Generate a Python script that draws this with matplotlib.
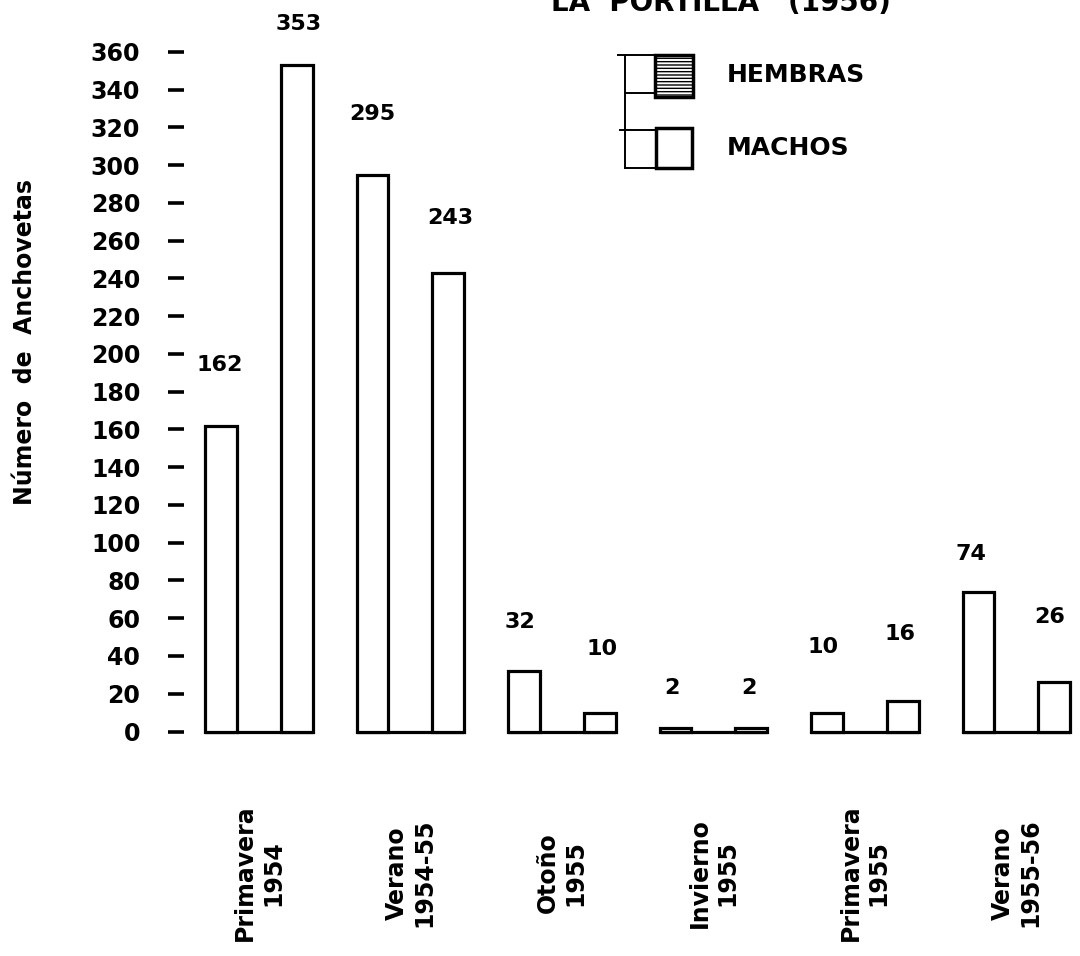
import numpy as np
import matplotlib
matplotlib.use("Agg")
import matplotlib.pyplot as plt
from matplotlib.patches import Rectangle
from matplotlib.lines import Line2D

# --- data ---
seasons = ["Primavera\n1954", "Verano\n1954-55", "Otoño\n1955",
           "Invierno\n1955", "Primavera\n1955", "Verano\n1955-56"]
hembras = [162, 295, 32, 2, 10, 74]
machos = [353, 243, 10, 2, 16, 26]
yticks = list(range(0, 361, 20))

# hand-lettered value labels sit a bit irregularly above each bar (pixels)
nudge_h = [(-1, 61), (0, 61), (-4, 49), (-4, 40), (-4, 66), (-8, 38)]
nudge_m = [(2, 41), (2, 55), (2, 64), (-2, 40), (-3, 67), (-5, 65)]

plt.rcParams['font.family'] = 'DejaVu Sans'
plt.rcParams['font.weight'] = 'bold'

W, H = 1080, 956
fig = plt.figure(figsize=(W / 100, H / 100), dpi=100, facecolor='white')
ax = fig.add_axes([184 / W, 1 - 745 / H, (W - 184) / W, 745 / H])

x = np.arange(len(seasons))
off, width = 0.25, 0.21
kw = dict(width=width, color='white', edgecolor='black', linewidth=2.3, zorder=3)
bars_h = ax.bar(x - off, hembras, **kw)
bars_m = ax.bar(x + off, machos, **kw)

# base line joining the two bars of each season
ax.hlines(np.zeros(len(x)), x - off - width / 2, x + off + width / 2,
          color='black', lw=2.3, zorder=2)

for bars, vals, nudges in [(bars_h, hembras, nudge_h), (bars_m, machos, nudge_m)]:
    for b, v, (dx, dy) in zip(bars, vals, nudges):
        ax.annotate(str(v), (b.get_x() + b.get_width() / 2, v),
                    xytext=(dx, dy), textcoords='offset pixels',
                    ha='center', va='center', fontsize=16, fontweight='bold')

ax.set_xlim(-0.495, 5.42)
ax.set_ylim(-7.15, 387.5)
ax.set_yticks(yticks)
ax.set_yticklabels([str(t) for t in yticks])
ax.tick_params(axis='y', direction='out', length=11.5, width=2.6, pad=20,
               labelsize=17, colors='black')
ax.set_xticks(x)
ax.set_xticklabels(seasons)
ax.tick_params(axis='x', length=0, pad=92, labelsize=17)
plt.setp(ax.get_xticklabels(), rotation=90, va='center', ha='center',
         multialignment='center', fontweight='bold')
plt.setp(ax.get_yticklabels(), fontweight='bold')
for s in ax.spines.values():
    s.set_visible(False)

ax.set_ylabel('Número  de  Anchovetas', fontsize=17, fontweight='bold', va='center')
ax.yaxis.set_label_coords(-0.178, 0.541)

# title, cut off by the top edge of the scan
fig.text(721 / W, 1 - 11 / H, 'LA  PORTILLA   (1956)', ha='center', va='baseline',
         fontsize=20, fontweight='bold')

# legend drawn the way the original draughtsman did it
def fp(px, py):
    return px / W, 1 - py / H

tf = fig.transFigure
x0, y0 = fp(655, 97)
fig.add_artist(Rectangle((x0, y0), 38 / W, 42 / H, transform=tf, facecolor='white',
                         edgecolor='black', hatch='-----', linewidth=2.5))
x0, y0 = fp(656, 168)
fig.add_artist(Rectangle((x0, y0), 36 / W, 40 / H, transform=tf, facecolor='white',
                         edgecolor='black', linewidth=2.5))
for (xa, ya), (xb, yb) in [((625, 55), (625, 168)), ((618, 55), (655, 55)),
                           ((625, 93), (655, 93)), ((620, 130), (656, 130)),
                           ((625, 168), (656, 168))]:
    (u0, v0), (u1, v1) = fp(xa, ya), fp(xb, yb)
    fig.add_artist(Line2D([u0, u1], [v0, v1], transform=tf, color='black', lw=1.4))
fig.text(*fp(727, 75), 'HEMBRAS', ha='left', va='center', fontsize=18, fontweight='bold')
fig.text(*fp(727, 148), 'MACHOS', ha='left', va='center', fontsize=18, fontweight='bold')

fig.savefig('out.png', dpi=100, facecolor='white')
